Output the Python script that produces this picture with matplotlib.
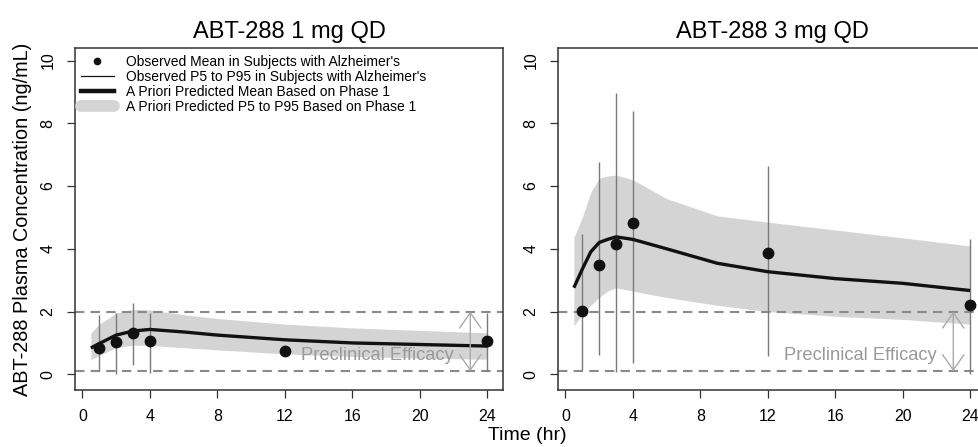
import matplotlib
matplotlib.use("Agg")
import matplotlib.pyplot as plt
from matplotlib.lines import Line2D
import numpy as np

plt.rcParams['font.family'] = ['Liberation Sans', 'DejaVu Sans']

# ---------------- data ----------------
titles = ["ABT-288 1 mg QD", "ABT-288 3 mg QD"]
obs_time = [1, 2, 3, 4, 12, 24]

# 1 mg
obs_mean_1 = [0.84, 1.03, 1.32, 1.05, 0.73, 1.05]
obs_p5_1 = [0.1, 0.0, 0.3, 0.05, np.nan, 0.1]
obs_p95_1 = [1.9, 1.95, 2.28, 1.95, np.nan, 1.96]
pred_time_1 = [0.5, 1, 2, 3, 4, 6, 8, 12, 16, 20, 24]
pred_mean_1 = [0.84, 0.98, 1.25, 1.38, 1.43, 1.35, 1.25, 1.1, 1.0, 0.95, 0.9]
pred_p95_1 = [1.32, 1.6, 1.95, 2.07, 2.05, 1.9, 1.78, 1.6, 1.48, 1.4, 1.32]
pred_p5_1 = [0.47, 0.6, 0.85, 0.93, 0.92, 0.85, 0.78, 0.65, 0.57, 0.52, 0.48]

# 3 mg
obs_mean_3 = [2.03, 3.47, 4.14, 4.83, 3.86, 2.2]
obs_p5_3 = [0.15, 0.63, 0.07, 0.36, 0.58, 0.0]
obs_p95_3 = [4.46, 6.77, 8.96, 8.38, 6.65, 4.3]
pred_time_3 = [0.5, 1, 1.5, 2, 2.5, 3, 4, 6, 9, 12, 16, 20, 24]
pred_mean_3 = [2.76, 3.35, 3.9, 4.2, 4.3, 4.38, 4.3, 4.0, 3.54, 3.27, 3.05, 2.9, 2.67]
pred_p95_3 = [4.36, 5.0, 5.8, 6.25, 6.32, 6.35, 6.2, 5.6, 5.05, 4.85, 4.6, 4.35, 4.09]
pred_p5_3 = [1.55, 1.9, 2.2, 2.45, 2.65, 2.76, 2.65, 2.45, 2.2, 2.0, 1.85, 1.75, 1.6]

efficacy_low, efficacy_high = 0.1, 2.0
xticks = [0, 4, 8, 12, 16, 20, 24]
yticks = [0, 2, 4, 6, 8, 10]

legend_labels = ["Observed Mean in Subjects with Alzheimer's",
                 "Observed P5 to P95 in Subjects with Alzheimer's",
                 "A Priori Predicted Mean Based on Phase 1",
                 "A Priori Predicted P5 to P95 Based on Phase 1"]

panels = [
    (obs_mean_1, obs_p5_1, obs_p95_1, pred_time_1, pred_mean_1, pred_p5_1, pred_p95_1),
    (obs_mean_3, obs_p5_3, obs_p95_3, pred_time_3, pred_mean_3, pred_p5_3, pred_p95_3),
]

# ---------------- figure ----------------
fig = plt.figure(figsize=(9.79, 4.47), dpi=100)
W, H = 979, 447
boxes = [(75, 48, 503, 390), (558, 48, 986, 390)]

band_col = '#d4d4d4'
dash_col = '#8a8a8a'
err_col = '#7a7a7a'
spine_col = '#333333'

for i, (box, title, data) in enumerate(zip(boxes, titles, panels)):
    x0, y0, x1, y1 = box
    ax = fig.add_axes([x0 / W, 1 - y1 / H, (x1 - x0) / W, (y1 - y0) / H])
    om, p5, p95, pt, pm, pp5, pp95 = data

    ax.fill_between(pt, pp5, pp95, color=band_col, lw=0, zorder=1)
    for yv in (efficacy_low, efficacy_high):
        ax.axhline(yv, color=dash_col, lw=1.5, ls=(0, (4.5, 3)), zorder=2)
    ax.vlines(obs_time, p5, p95, color=err_col, lw=1.0, zorder=3)
    ax.plot(pt, pm, color='#111111', lw=2.4, zorder=4, solid_capstyle='butt')
    ax.plot(obs_time, om, 'o', color='#111111', ms=7.5, zorder=5)

    ax.text(17.5, 0.6, "Preclinical Efficacy", color='#999999', fontsize=13.2,
            ha='center', va='center', zorder=6)
    ax.annotate("", xy=(23, efficacy_high), xytext=(23, efficacy_low),
                arrowprops=dict(arrowstyle='<->,head_length=0.5,head_width=0.35',
                                color='#aaaaaa', lw=1.0,
                                mutation_scale=22, shrinkA=0, shrinkB=0),
                zorder=6)

    ax.set_xlim(-0.44, 24.94)
    ax.set_ylim(-0.5, 10.4)
    ax.set_xticks(xticks)
    ax.set_yticks(yticks)
    ax.set_xticklabels([str(v) for v in xticks], fontsize=11.5)
    ax.set_yticklabels([str(v) for v in yticks], fontsize=11.5, rotation=90, va='center')
    ax.tick_params(direction='out', length=6, width=0.9, color=spine_col, pad=8)
    for s in ax.spines.values():
        s.set_color(spine_col)
        s.set_linewidth(1.1)
    ax.set_title(title, fontsize=17, pad=7)

    if i == 0:
        ax.set_ylabel("ABT-288 Plasma Concentration (ng/mL)", fontsize=14.3, labelpad=6)
        handles = [
            Line2D([], [], marker='o', ls='none', color='#111111', ms=4.5),
            Line2D([], [], color='#111111', lw=0.9),
            Line2D([], [], color='#111111', lw=3.2),
            Line2D([], [], color=band_col, lw=8.5, solid_capstyle='round'),
        ]
        ax.legend(handles, legend_labels, loc='upper left', frameon=False,
                  fontsize=10, handlelength=2.4, handletextpad=0.85,
                  labelspacing=0.06, borderaxespad=0.0,
                  bbox_to_anchor=(0.0, 0.995))

fig.text(527 / W, 1 - 436 / H, "Time (hr)", fontsize=14, ha='center', va='center')

fig.savefig("out.png", dpi=100, facecolor='white')
